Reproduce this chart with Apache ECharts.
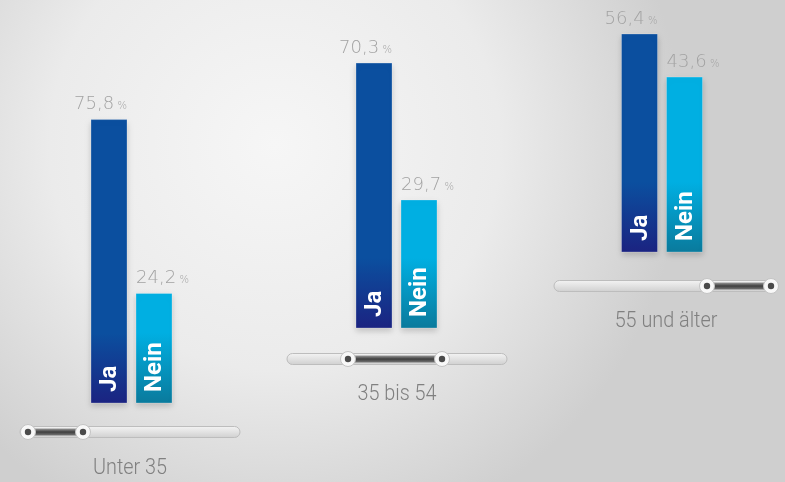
<!DOCTYPE html>
<html><head><meta charset="utf-8">
<script src="https://cdn.jsdelivr.net/npm/echarts@6/dist/echarts.min.js"></script>
<style>html,body{margin:0;padding:0;}#c{width:785px;height:482px;}</style>
</head><body><div id="c"></div>
<script>
// ---- data ----
var groups = ['Unter 35', '35 bis 54', '55 und älter'];
var answers = ['Ja', 'Nein'];
var jaValues = [75.8, 70.3, 56.4];
var neinValues = [24.2, 29.7, 43.6];

// ---- layout ----
var pxPerUnit = 3.37;
var yMin = -8.3;              // bar foot (label area) below zero
var yMax = [80, 80, 60];
var baselines = [403, 328, 252];
var gridLefts = [86.5, 351.5, 617];
var sliders = [
  {x1: 20, x2: 240, y: 432, k1: 28, k2: 83, ly: 468},
  {x1: 287, x2: 507, y: 359, k1: 348, k2: 442, ly: 394},
  {x1: 554, x2: 778, y: 286, k1: 707, k2: 771, ly: 321}
];
var colors = {
  Ja: ['#0b4f9f', '#1b2381'],
  Nein: ['#00afe2', '#0a7a9c']
};

function fmt(v) { return v.toFixed(1).replace('.', ','); }

function makeRender(gi) {
  return function (params, api) {
    var idx = api.value(0);
    var val = api.value(1);
    var topPt = api.coord([idx, val]);
    var basePt = api.coord([idx, yMin]);
    var bw = 36;
    var cx = topPt[0];
    var x = cx - bw / 2;
    var h = basePt[1] - topPt[1];
    var name = answers[idx];
    var c = colors[name];
    var s = Math.max(0, 1 - 70 / h);
    var isJa = idx === 0;
    return {
      type: 'group',
      children: [
        {
          type: 'rect',
          shape: {x: x, y: topPt[1], width: bw, height: h},
          style: {
            fill: new echarts.graphic.LinearGradient(0, 0, 0, 1, [
              {offset: 0, color: c[0]}, {offset: s, color: c[0]}, {offset: 1, color: c[1]}
            ]),
            stroke: 'rgba(255,255,255,0.25)', lineWidth: 1,
            shadowColor: 'rgba(0,0,0,0.18)', shadowBlur: 6, shadowOffsetY: 3
          }
        },
        {
          type: 'text',
          x: cx + 1, y: basePt[1] - 11,
          rotation: Math.PI / 2,
          style: {
            text: name, x: 0, y: 0, align: 'left', verticalAlign: 'middle',
            fill: '#ffffff', fontFamily: 'Roboto, sans-serif', fontWeight: 'bold', fontSize: 24
          }
        },
        {
          type: 'text',
          x: isJa ? x + bw : x, y: topPt[1] - 15,
          style: {
            text: '{n|' + fmt(val) + '} {p|%}',
            align: isJa ? 'right' : 'left', verticalAlign: 'middle',
            rich: {
              n: {fontFamily: '"DejaVu Sans", sans-serif', fontWeight: 200, fontSize: 18, fill: '#a2a2a2', color: '#a2a2a2'},
              p: {fontFamily: '"DejaVu Sans", sans-serif', fontWeight: 200, fontSize: 10, fill: '#a2a2a2', color: '#a2a2a2', padding: [4, 0, 0, 0]}
            }
          }
        }
      ]
    };
  };
}

var grids = [], xAxes = [], yAxes = [], series = [];
groups.forEach(function (g, gi) {
  var height = (yMax[gi] - yMin) * pxPerUnit;
  grids.push({left: gridLefts[gi], width: 90, top: baselines[gi] - height, height: height});
  xAxes.push({type: 'category', gridIndex: gi, data: answers, show: false});
  yAxes.push({type: 'value', gridIndex: gi, min: yMin, max: yMax[gi], show: false, splitLine: {show: false}});
  series.push({
    type: 'custom', xAxisIndex: gi, yAxisIndex: gi,
    data: [[0, jaValues[gi]], [1, neinValues[gi]]],
    encode: {x: 0, y: 1},
    renderItem: makeRender(gi),
    silent: true
  });
});

var graphics = [{
  type: 'rect', z: -10, silent: true,
  shape: {x: 0, y: 0, width: 785, height: 482},
  style: {
    fill: new echarts.graphic.RadialGradient(0.35, 0.3, 0.85, [
      {offset: 0, color: '#f6f6f6'}, {offset: 0.55, color: '#ebebeb'}, {offset: 1, color: '#cfcfcf'}
    ])
  }
}];

sliders.forEach(function (s, i) {
  graphics.push({
    type: 'rect', silent: true,
    shape: {x: s.x1, y: s.y - 5.5, width: s.x2 - s.x1, height: 11, r: 5.5},
    style: {
      fill: new echarts.graphic.LinearGradient(0, 0, 0, 1, [
        {offset: 0, color: '#f4f4f4'}, {offset: 0.5, color: '#e2e2e2'}, {offset: 1, color: '#cfcfcf'}
      ]),
      stroke: '#bdbdbd', lineWidth: 1
    }
  });
  graphics.push({
    type: 'rect', silent: true,
    shape: {x: s.k1, y: s.y - 3.5, width: s.k2 - s.k1, height: 7},
    style: {
      fill: new echarts.graphic.LinearGradient(0, 0, 0, 1, [
        {offset: 0, color: '#9a9a9a'}, {offset: 0.5, color: '#3e3e3e'}, {offset: 1, color: '#777777'}
      ])
    }
  });
  [s.k1, s.k2].forEach(function (k) {
    graphics.push({
      type: 'circle', silent: true,
      shape: {cx: k, cy: s.y, r: 7.5},
      style: {fill: '#f8f8f8', stroke: '#c4c4c4', lineWidth: 1}
    });
    graphics.push({
      type: 'circle', silent: true,
      shape: {cx: k, cy: s.y, r: 3.2},
      style: {fill: '#4a4a4a'}
    });
  });
  graphics.push({
    type: 'text', silent: true,
    x: (s.x1 + s.x2) / 2, y: s.ly,
    scaleX: 0.9,
    style: {
      text: groups[i], x: 0, y: 0, align: 'center', verticalAlign: 'middle',
      fill: '#808080', fontFamily: 'Roboto, sans-serif', fontWeight: 300, fontSize: 22
    }
  });
});

var chart = echarts.init(document.getElementById('c'), null, {renderer: 'canvas'});
chart.setOption({
  animation: false,
  backgroundColor: '#e8e8e8',
  grid: grids,
  xAxis: xAxes,
  yAxis: yAxes,
  series: series,
  graphic: graphics
});
</script>
</body></html>
